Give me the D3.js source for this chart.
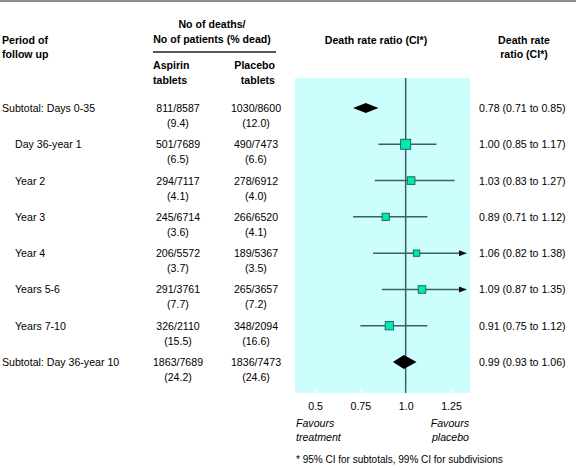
<!DOCTYPE html>
<html><head><meta charset="utf-8">
<script src="https://cdn.jsdelivr.net/npm/d3@7"></script>
<style>
body{margin:0;background:#fff;}
svg{display:block;font-family:"Liberation Sans",Arial,sans-serif;}
</style></head>
<body><svg id="c" width="576" height="468"></svg>
<script>
const periods = ["Subtotal: Days 0-35","Day 36-year 1","Year 2","Year 3","Year 4","Years 5-6","Years 7-10","Subtotal: Day 36-year 10"];
const isSubtotal = [true,false,false,false,false,false,false,true];
const aspDeaths = [811,501,294,245,206,291,326,1863];
const aspPatients = [8587,7689,7117,6714,5572,3761,2110,7689];
const aspPct = ["9.4","6.5","4.1","3.6","3.7","7.7","15.5","24.2"];
const plaDeaths = [1030,490,278,266,189,265,348,1836];
const plaPatients = [8600,7473,6912,6520,5367,3657,2094,7473];
const plaPct = ["12.0","6.6","4.0","4.1","3.5","7.2","16.6","24.6"];
const ratio = [0.78,1.00,1.03,0.89,1.06,1.09,0.91,0.99];
const ciLow = [0.71,0.85,0.83,0.71,0.82,0.87,0.75,0.93];
const ciHigh = [0.85,1.17,1.27,1.12,1.38,1.35,1.12,1.06];
const tickValues = [0.5,0.75,1.0,1.25];
const tickLabels = ["0.5","0.75","1.0","1.25"];

const svg = d3.select("#c");
const FS = 10.6;

// layout
const panelL = 295, panelR = 470, panelT = 78, panelB = 393;
const x = d3.scaleLinear().domain([0.5,1.25]).range([315,451]);
const y = d3.scalePoint().domain(d3.range(periods.length)).range([108,362]);
const totalDeaths = aspDeaths.map((d,i)=>d+plaDeaths[i]);
const boxSize = d3.scaleSqrt().domain([0, d3.max(totalDeaths.filter((d,i)=>!isSubtotal[i]))]).range([0,10]);
const diaH = d3.scaleSqrt().domain([0, d3.max(totalDeaths)]).range([0,7]);

// top rule
svg.append("line").attr("x1",0).attr("x2",576).attr("y1",1).attr("y2",1)
  .attr("stroke","#666").attr("stroke-width",1.5);

function txt(t,xx,yy,anchor,opts={}){
  const e = svg.append("text").attr("x",xx).attr("y",yy).attr("text-anchor",anchor||"start")
    .attr("font-size",opts.size||FS).attr("fill","#000").text(t);
  if(opts.bold) e.attr("font-weight","bold");
  if(opts.italic) e.attr("font-style","italic");
  return e;
}
// headers
txt("Period of",2,44,"start",{bold:true});
txt("follow up",2,58,"start",{bold:true});
txt("No of deaths/",212,28,"middle",{bold:true});
txt("No of patients (% dead)",212,43,"middle",{bold:true});
svg.append("line").attr("x1",153).attr("x2",276).attr("y1",52).attr("y2",52)
  .attr("stroke","#222").attr("stroke-width",1.5);
txt("Aspirin",153,69,"start",{bold:true});
txt("tablets",153,84,"start",{bold:true});
txt("Placebo",275,69,"end",{bold:true});
txt("tablets",275,84,"end",{bold:true});
txt("Death rate ratio (CI*)",376,44,"middle",{bold:true});
txt("Death rate",524,44,"middle",{bold:true});
txt("ratio (CI*)",524,58,"middle",{bold:true});

// panel
svg.append("rect").attr("x",panelL).attr("y",panelT).attr("width",panelR-panelL).attr("height",panelB-panelT)
  .attr("fill","#ccfefe");

// axis
const axis = d3.axisBottom(x).tickValues(tickValues).tickFormat((d,i)=>tickLabels[i]).tickSizeInner(-5).tickSizeOuter(0).tickPadding(9);
const ag = svg.append("g").attr("transform",`translate(0,${panelB})`).call(axis);
ag.select(".domain").remove();
ag.selectAll(".tick line").attr("stroke","#fff").attr("stroke-width",1);
ag.selectAll(".tick text").attr("font-size",FS).attr("font-family","Liberation Sans, Arial, sans-serif").attr("fill","#000");

// reference line
svg.append("line").attr("x1",x(1)).attr("x2",x(1)).attr("y1",panelT).attr("y2",panelB)
  .attr("stroke","#3d5f5f").attr("stroke-width",1.5);

// rows
const lineCol = "#3d5f5f";
periods.forEach((p,i)=>{
  const yy = y(i);
  txt(p, isSubtotal[i]?2:15, yy+4, "start");
  txt(aspDeaths[i]+"/"+aspPatients[i], 178, yy+4, "middle");
  txt("("+aspPct[i]+")", 178, yy+19, "middle");
  txt(plaDeaths[i]+"/"+plaPatients[i], 256, yy+4, "middle");
  txt("("+plaPct[i]+")", 256, yy+19, "middle");
  txt(ratio[i].toFixed(2)+" ("+ciLow[i].toFixed(2)+" to "+ciHigh[i].toFixed(2)+")", 479, yy+4, "start");
  if(isSubtotal[i]){
    const h = diaH(totalDeaths[i]);
    const pts = [[x(ciLow[i]),yy],[x(ratio[i]),yy-h],[x(ciHigh[i]),yy],[x(ratio[i]),yy+h]];
    svg.append("path").attr("d","M"+pts.map(q=>q.join(",")).join("L")+"Z").attr("fill","#000");
  } else {
    const maxX = panelR - 3;
    const over = x(ciHigh[i]) > maxX;
    const x2 = over ? maxX - 6 : x(ciHigh[i]);
    svg.append("line").attr("x1",x(ciLow[i])).attr("x2",x2).attr("y1",yy).attr("y2",yy)
      .attr("stroke",lineCol).attr("stroke-width",1.5);
    if(over){
      svg.append("path").attr("d",`M${maxX},${yy}L${maxX-8},${yy-3}L${maxX-8},${yy+3}Z`).attr("fill","#111");
    }
    const s = boxSize(totalDeaths[i]);
    svg.append("rect").attr("x",x(ratio[i])-s/2).attr("y",yy-s/2).attr("width",s).attr("height",s)
      .attr("fill","#00eab4").attr("stroke","#1f6a5a").attr("stroke-width",1);
  }
});

// bottom labels
txt("Favours",296,427,"start",{italic:true});
txt("treatment",296,441,"start",{italic:true});
txt("Favours",469,427,"end",{italic:true});
txt("placebo",469,441,"end",{italic:true});
txt("* 95% CI for subtotals, 99% CI for subdivisions",296,463,"start",{size:10});
</script></body></html>
